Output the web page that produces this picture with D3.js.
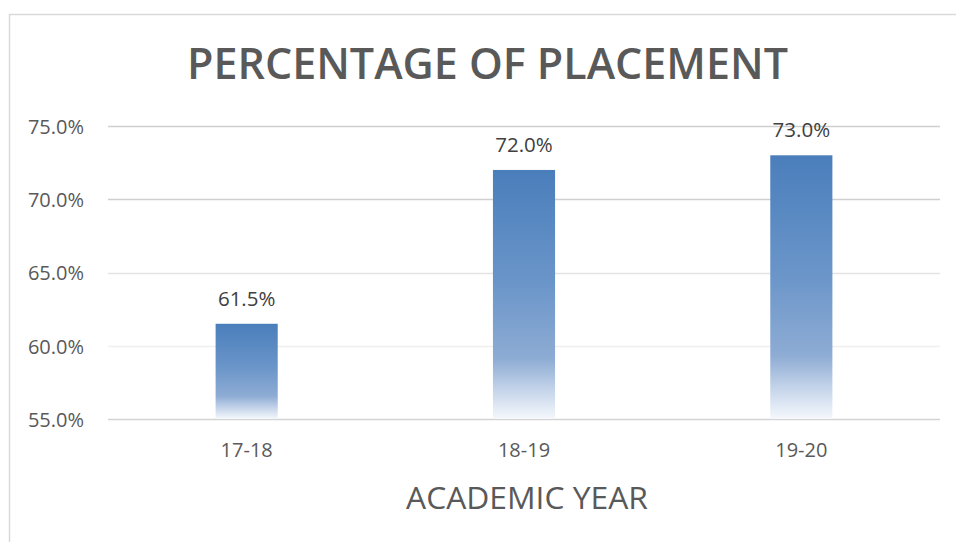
<!DOCTYPE html>
<html>
<head>
<meta charset="utf-8">
<script src="https://cdn.jsdelivr.net/npm/d3@7"></script>
<style>
  html, body { margin: 0; padding: 0; background: #fff; }
  svg { display: block; font-family: "Open Sans", sans-serif; }
</style>
</head>
<body>
<svg id="chart" width="956" height="542"></svg>
<script>
// Placement percentage per academic year
const years = ["17-18", "18-19", "19-20"];
const placement = [61.5, 72.0, 73.0];
const yTicks = [55, 60, 65, 70, 75];
const chartTitle = "PERCENTAGE OF PLACEMENT";
const xAxisTitle = "ACADEMIC YEAR";

const W = 956, H = 542;
const margin = { left: 108, right: 16, top: 126, bottom: 123 };
const svg = d3.select("#chart");

// outer chart frame
svg.append("rect")
  .attr("x", 9.5).attr("y", 14.5)
  .attr("width", 1000).attr("height", 600)
  .attr("fill", "none").attr("stroke", "#d9d9d9").attr("stroke-width", 1.5);

const x = d3.scaleBand()
  .domain(years)
  .range([margin.left, W - margin.right])
  .paddingInner(0.776).paddingOuter(0.388);

const y = d3.scaleLinear()
  .domain([55, 75])
  .range([H - margin.bottom, margin.top]);

// gradient fill for the bars
const defs = svg.append("defs");
const grad = defs.append("linearGradient")
  .attr("id", "barFill")
  .attr("x1", 0).attr("y1", 0).attr("x2", 0).attr("y2", 1);
grad.append("stop").attr("offset", "0").attr("stop-color", "#4a7ebb");
grad.append("stop").attr("offset", "0.45").attr("stop-color", "#6a95c9");
grad.append("stop").attr("offset", "0.76").attr("stop-color", "#8eacd4");
grad.append("stop").attr("offset", "0.88").attr("stop-color", "#c3d3e9");
grad.append("stop").attr("offset", "1").attr("stop-color", "#f5f8fc");

// gridlines
const gridColor = { 55: "#d4d4d4", 60: "#efefef", 65: "#e3e3e3", 70: "#d0d0d0", 75: "#cfcfcf" };
svg.append("g")
  .selectAll("line")
  .data(yTicks)
  .join("line")
  .attr("x1", margin.left).attr("x2", W - margin.right)
  .attr("y1", d => Math.round(y(d)) + 0.5).attr("y2", d => Math.round(y(d)) + 0.5)
  .attr("stroke", d => gridColor[d]).attr("stroke-width", 1.5);

// y axis labels
const yAxis = svg.append("g")
  .attr("transform", `translate(${margin.left - 24},0)`)
  .call(d3.axisLeft(y).tickValues(yTicks).tickSize(0).tickPadding(0)
    .tickFormat(d => d3.format(".1f")(d) + "%"));
yAxis.select(".domain").remove();
yAxis.selectAll("text")
  .attr("font-family", "Open Sans, sans-serif")
  .attr("font-size", 20).attr("fill", "#595959")
  .attr("dy", "0.37em");

// bars
svg.append("g")
  .selectAll("rect")
  .data(placement)
  .join("rect")
  .attr("x", (d, i) => x(years[i]))
  .attr("width", x.bandwidth())
  .attr("y", d => y(d))
  .attr("height", d => y(55) - y(d))
  .attr("fill", "url(#barFill)");

// value labels
svg.append("g")
  .selectAll("text")
  .data(placement)
  .join("text")
  .attr("x", (d, i) => x(years[i]) + x.bandwidth() / 2)
  .attr("y", d => y(d) - 18)
  .attr("text-anchor", "middle")
  .attr("font-size", 20.5).attr("fill", "#404040")
  .text(d => d3.format(".1f")(d) + "%");

// x axis labels
const xAxis = svg.append("g")
  .attr("transform", `translate(0,${y(55)})`)
  .call(d3.axisBottom(x).tickSize(0).tickPadding(0));
xAxis.select(".domain").remove();
xAxis.selectAll("text")
  .attr("font-family", "Open Sans, sans-serif")
  .attr("font-size", 20).attr("fill", "#595959")
  .attr("dy", null).attr("y", 38);

// fit a text element to a given width
function fitWidth(sel, target) {
  const node = sel.node();
  const fs = parseFloat(sel.attr("font-size"));
  const w = node.getComputedTextLength();
  sel.attr("font-size", fs * target / w);
}

// chart title
const title = svg.append("text")
  .attr("x", 487.5).attr("y", 79)
  .attr("text-anchor", "middle")
  .attr("font-weight", 600)
  .attr("font-size", 40).attr("fill", "#595959")
  .text(chartTitle);
fitWidth(title, 601);

// x axis title
const xt = svg.append("text")
  .attr("x", 527).attr("y", 509)
  .attr("text-anchor", "middle")
  .attr("font-size", 30).attr("fill", "#595959")
  .text(xAxisTitle);
fitWidth(xt, 242);
</script>
</body>
</html>
